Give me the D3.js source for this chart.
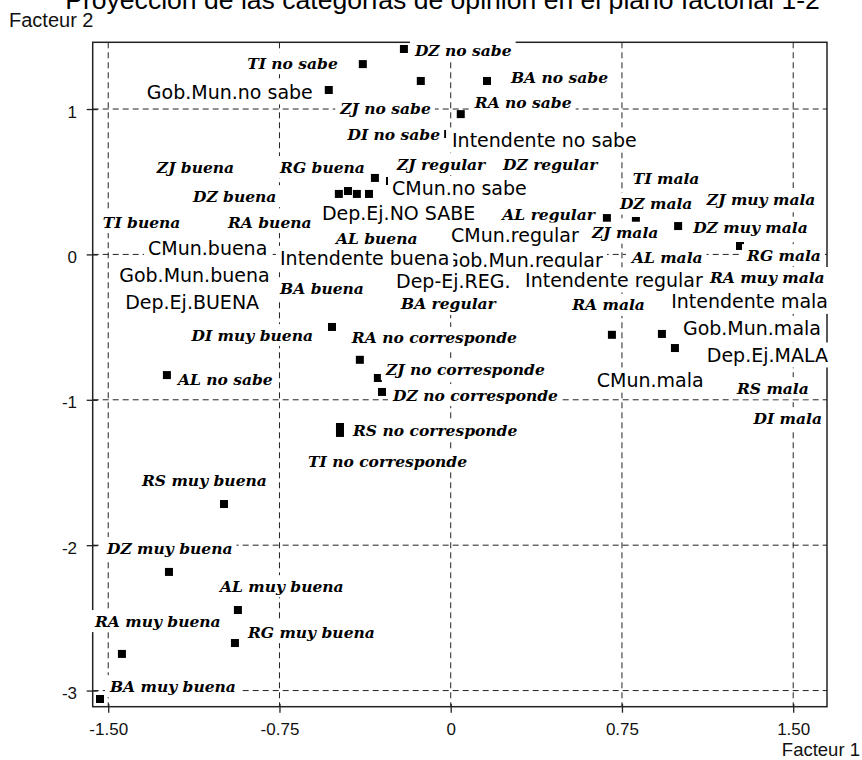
<!DOCTYPE html>
<html>
<head>
<meta charset="utf-8">
<script src="https://cdn.jsdelivr.net/npm/d3@7"></script>
<style>
  html, body { margin: 0; padding: 0; background: #fff; }
  svg { display: block; }
</style>
</head>
<body>
<svg id="chart" width="862" height="760"></svg>
<script>
// Opinion categories, listed in the order their labels are painted
const categories = [
  "DZ no sabe", "TI no sabe", "BA no sabe", "Gob.Mun.no sabe", "RA no sabe",
  "ZJ no sabe", "DI no sabe", "Intendente no sabe", "ZJ regular", "DZ regular",
  "ZJ buena", "RG buena", "TI mala", "CMun.no sabe", "DZ buena",
  "ZJ muy mala", "DZ mala", "Dep.Ej.NO SABE", "AL regular", "TI buena",
  "RA buena", "DZ muy mala", "ZJ mala", "CMun.regular", "AL buena",
  "CMun.buena", "AL mala", "RG mala", "Gob.Mun.regular", "Intendente buena",
  "Gob.Mun.buena", "Intendente regular", "RA muy mala", "Dep-Ej.REG.", "BA buena",
  "Intendente mala", "Dep.Ej.BUENA", "BA regular", "RA mala", "Gob.Mun.mala",
  "DI muy buena", "RA no corresponde", "Dep.Ej.MALA", "ZJ no corresponde", "AL no sabe",
  "CMun.mala", "RS mala", "DZ no corresponde", "DI mala", "RS no corresponde",
  "TI no corresponde", "RS muy buena", "DZ muy buena", "AL muy buena", "RA muy buena",
  "RG muy buena", "BA muy buena"
];

// Coordinates on factor 1 (horizontal)
const factor1 = [
  -0.205, -0.385, 0.159, -0.534, 0.044,
  -0.131, -0.038, 0.032, -0.047, 0.435,
  -0.490, -0.332, 0.916, -0.266, -0.450,
  1.354, 0.811, -0.135, 0.684, -0.411,
  -0.358, 0.996, 0.763, 0.260, -0.310,
  -1.054, 0.938, 1.267, 0.347, -0.441,
  -1.141, 0.654, 1.398, -0.003, -0.572,
  1.267, -1.141, -0.003, 0.706, 0.925,
  -0.520, -0.398, 0.982, -0.319, -1.243,
  0.872, 1.398, -0.301, 1.486, -0.485,
  -0.485, -0.993, -1.234, -0.932, -1.440,
  -0.945, -1.536
];

// Coordinates on factor 2 (vertical)
const factor2 = [
  1.413, 1.309, 1.193, 1.131, 0.965,
  1.193, 0.828, 0.787, 0.622, 0.622,
  0.416, 0.526, 0.374, 0.505, 0.436,
  0.374, 0.230, 0.285, 0.250, 0.416,
  0.416, 0.195, 0.133, 0.133, 0.113,
  0.044, -0.018, 0.058, -0.038, -0.024,
  -0.142, -0.175, -0.168, -0.182, -0.231,
  -0.320, -0.327, -0.340, -0.553, -0.547,
  -0.499, -0.725, -0.644, -0.850, -0.830,
  -0.864, -0.919, -0.946, -1.125, -1.187,
  -1.228, -1.717, -2.184, -2.446, -2.748,
  -2.673, -3.058
];

// Axis ticks
const xTicks = [-1.5, -0.75, 0, 0.75, 1.5];
const xTickLabels = ["-1.50", "-0.75", "0", "0.75", "1.50"];
const yTicks = [1, 0, -1, -2, -3];
const yTickLabels = ["1", "0", "-1", "-2", "-3"];

// Label placement: text anchor, then pixel nudge from the point
// (dx to the anchor, dy to the middle of the capitals)
const labelNudge = [
  ["start", 11, 1], ["end", -25, -1], ["start", 24, -4], ["end", -16, 2], ["start", 14, -12],
  ["end", 10, 27], ["end", -2, 0], ["start", -6, 0], ["start", -43, 0], ["start", -47, 0],
  ["start", -182, -27], ["end", -10, -11], ["start", -27, -22], ["start", 2, 7.5], ["start", -155, 5],
  ["start", -53, -1], ["start", -16, -17.5], ["start", -98, 0.5], ["end", -12, -4], ["start", -254, 28],
  ["start", -141, 28], ["start", 15, 1.5], ["start", -33, -2.5], ["start", -59, 0], ["start", -44, 0],
  ["start", -62, 0.5], ["start", -33, 0], ["start", 7, 9], ["start", -86, 0], ["start", -70, 0.5],
  ["start", -71, 0], ["start", -75, 0], ["start", -60, -1], ["start", -54, 0], ["start", -40, 0],
  ["end", 88, 0.5], ["start", -65, 0.5], ["start", -49, 0], ["end", 33, -30], ["start", 21, -5.5],
  ["end", -19, 8], ["start", -8, -22], ["end", 153, 7], ["start", 8, -9], ["start", 11, 4],
  ["start", -53, 0], ["start", -33, 0], ["start", 11, 3], ["end", 32, 0], ["start", 13, 3],
  ["start", -32, 28], ["start", -82, -24], ["start", -62, -24], ["start", -18, -24], ["start", -27, -33],
  ["start", 13, -11], ["start", 10, -13]
];

const titleText = "Proyección de las categorías de opinión en el plano factorial 1-2";

// ---------------------------------------------------------------
const svg = d3.select("#chart");
const frame = { left: 92.7, right: 827, top: 42.3, bottom: 706.7 };

const x = d3.scaleLinear().domain([-1.568, 1.648]).range([frame.left, frame.right]);
const y = d3.scaleLinear().domain([-3.111, 1.459]).range([frame.bottom, frame.top]);

const sansUI = "'Liberation Sans', Arial, sans-serif";
const sansLabel = "'DejaVu Sans', sans-serif";
const serifLabel = "'DejaVu Serif', serif";

svg.append("rect").attr("width", 862).attr("height", 760).attr("fill", "#fff");

// Dashed reference grid
const grid = svg.append("g").attr("stroke", "#222").attr("stroke-width", 1)
  .attr("stroke-dasharray", "6,4").attr("fill", "none");
grid.selectAll("line.v").data(xTicks).join("line").attr("class", "v")
  .attr("x1", d => x(d)).attr("x2", d => x(d))
  .attr("y1", frame.top).attr("y2", frame.bottom);
grid.selectAll("line.h").data(yTicks).join("line").attr("class", "h")
  .attr("y1", d => y(d)).attr("y2", d => y(d))
  .attr("x1", frame.left).attr("x2", frame.right);

// Plot frame
svg.append("rect")
  .attr("x", frame.left).attr("y", frame.top)
  .attr("width", frame.right - frame.left).attr("height", frame.bottom - frame.top)
  .attr("fill", "none").attr("stroke", "#222").attr("stroke-width", 1.5);

// Axes with ticks crossing the frame
const yAxis = d3.axisLeft(y).tickValues(yTicks)
  .tickFormat((d, i) => yTickLabels[i]).tickSize(6).tickPadding(9.7);
const gy = svg.append("g").attr("transform", `translate(${frame.left},0)`).call(yAxis);
gy.select(".domain").remove();
gy.selectAll(".tick line").attr("x1", 5).attr("stroke", "#222").attr("stroke-width", 1.3);
gy.selectAll(".tick text").attr("dy", "0.47em")
  .style("font-family", sansUI).style("font-size", "17px").attr("fill", "#111");

const xAxis = d3.axisBottom(x).tickValues(xTicks)
  .tickFormat((d, i) => xTickLabels[i]).tickSize(6).tickPadding(10.2);
const gx = svg.append("g").attr("transform", `translate(0,${frame.bottom})`).call(xAxis);
gx.select(".domain").remove();
gx.selectAll(".tick line").attr("y1", -3).attr("stroke", "#222").attr("stroke-width", 1.3);
gx.selectAll(".tick text")
  .style("font-family", sansUI).style("font-size", "17px").attr("fill", "#111");

// Category points
const points = categories.map((c, i) => ({
  name: c, f1: factor1[i], f2: factor2[i], nudge: labelNudge[i],
  institution: /^(Gob|CMun|Dep|Intendente)/.test(c)
}));

const marker = 8;
svg.append("g").selectAll("rect").data(points).join("rect")
  .attr("x", d => x(d.f1) - marker / 2).attr("y", d => y(d.f2) - marker / 2)
  .attr("width", marker).attr("height", marker).attr("fill", "#000");

// Labels with opaque backgrounds, painted in list order
const labels = svg.append("g");
points.forEach(d => {
  const size = d.institution ? 19 : 15.5;
  const cap = 0.729 * size;
  const g = labels.append("g");
  const bg = g.append("rect").attr("fill", "#fff");
  const t = g.append("text")
    .attr("x", x(d.f1) + d.nudge[1])
    .attr("y", y(d.f2) + d.nudge[2] + cap / 2)
    .attr("text-anchor", d.nudge[0])
    .style("font-family", d.institution ? sansLabel : serifLabel)
    .style("font-size", size + "px")
    .style("font-weight", d.institution ? "normal" : "bold")
    .style("font-style", d.institution ? "normal" : "italic")
    .attr("fill", "#000")
    .text(d.name);
  const b = t.node().getBBox();
  bg.attr("x", b.x - 4).attr("y", b.y - 1.5)
    .attr("width", b.width + 8).attr("height", b.height + 3);
});

// Titles
const title = svg.append("text")
  .attr("x", 442.5).attr("y", 8.5).attr("text-anchor", "middle")
  .style("font-family", sansUI).style("font-size", "24px").attr("fill", "#000")
  .text(titleText);
const tw = title.node().getComputedTextLength();
title.style("font-size", (24 * 755 / tw) + "px");

svg.append("text").attr("x", 9).attr("y", 27)
  .style("font-family", sansUI).style("font-size", "20px").attr("fill", "#111")
  .text("Facteur 2");
svg.append("text").attr("x", 860).attr("y", 756).attr("text-anchor", "end")
  .style("font-family", sansUI).style("font-size", "18.5px").attr("fill", "#111")
  .text("Facteur 1");
</script>
</body>
</html>
